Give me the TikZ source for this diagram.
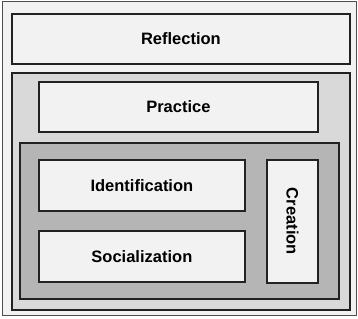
\documentclass[tikz,border=0pt]{standalone}
\usepackage{fontspec}
\setmainfont{Liberation Sans}
\definecolor{paper}{HTML}{F2F2F2}
\definecolor{midgray}{HTML}{D9D9D9}
\definecolor{darkgray}{HTML}{B5B5B5}
\definecolor{edge}{HTML}{222222}
\tikzset{
  labelfont/.style={font=\bfseries\fontsize{16.5}{19}\selectfont},
  box/.style={draw=edge, line width=1.8pt, fill=paper, labelfont, inner sep=0pt},
  panel/.style={draw=edge, line width=1.8pt, inner sep=0pt},
}
\begin{document}
\begin{tikzpicture}[x=1pt,y=-1pt]
\useasboundingbox (0,0) rectangle (358,318);
\fill[white] (0,0) rectangle (358,318);
\node[draw=edge!80, line width=0.9pt, fill=paper, inner sep=0pt, minimum width=354pt, minimum height=313pt, anchor=north west] (frame) at (1.5,1.5) {};
\node[box, minimum width=338pt, minimum height=50pt, anchor=north west] (refl) at (11,13) {Reflection};
\node[panel, fill=midgray, minimum width=338pt, minimum height=237pt, anchor=north west] (outerp) at (11,72) {};
\node[box, minimum width=279pt, minimum height=50pt, anchor=north west] (prac) at (38,81) {Practice};
\node[panel, fill=darkgray, minimum width=319pt, minimum height=156pt, anchor=north west] (innerp) at (19,142) {};
\node[box, minimum width=206pt, minimum height=51pt, anchor=north west] (ident) at (38,159) {Identification};
\node[box, minimum width=206pt, minimum height=51pt, anchor=north west] (social) at (38,230) {Socialization};
\node[box, minimum width=51pt, minimum height=123pt, anchor=north west] (creat) at (266,159) {};
\node[labelfont, rotate=-90] (creattext) at (creat.center) {Creation};
\end{tikzpicture}
\end{document}
